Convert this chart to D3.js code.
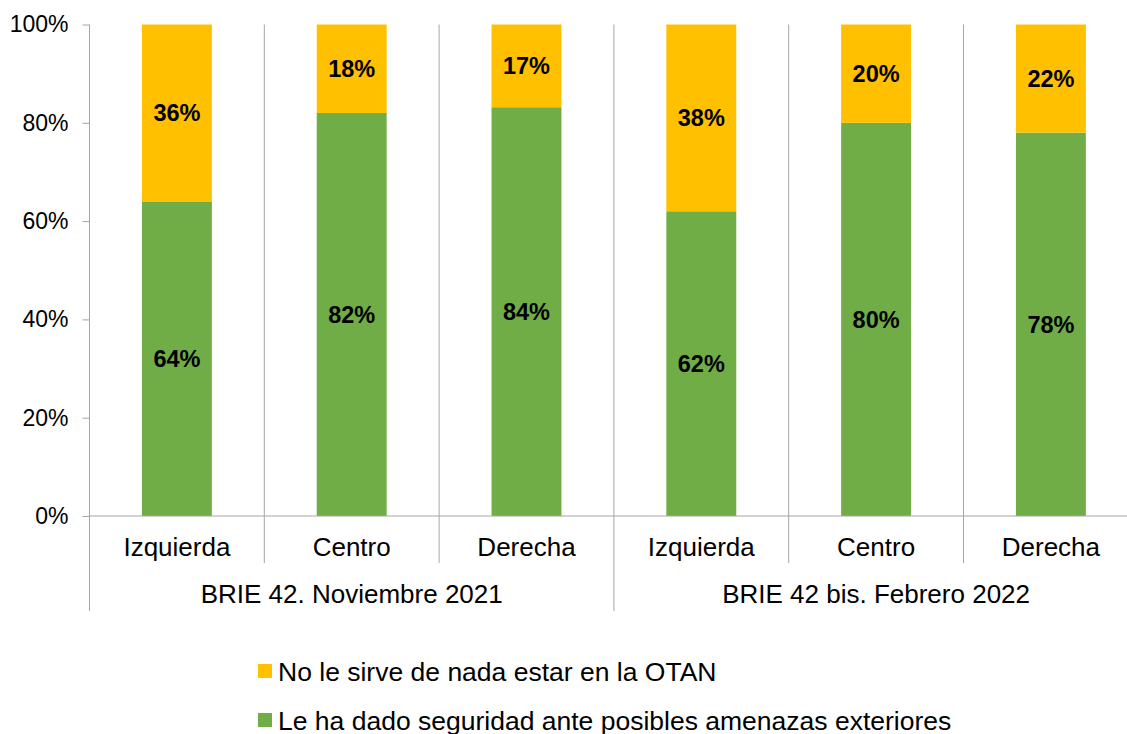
<!DOCTYPE html>
<html>
<head>
<meta charset="utf-8">
<script src="https://cdn.jsdelivr.net/npm/d3@7"></script>
<style>
  body { margin: 0; background: #fff; }
  svg { font-family: "Liberation Sans", Arial, sans-serif; }
  .axis path, .axis line { stroke: #a6a6a6; }
  .axis text { font-size: 23px; fill: #000; }
</style>
</head>
<body>
<svg class="chart" width="1127" height="734"></svg>
<script>
/* data */
var groups = ["BRIE 42. Noviembre 2021", "BRIE 42 bis. Febrero 2022"];
var categories = ["Izquierda", "Centro", "Derecha"];
var seguridad = [64, 82, 84, 62, 80, 78];   // green
var nada = [36, 18, 17, 38, 20, 22];        // yellow
var seriesNames = ["No le sirve de nada estar en la OTAN", "Le ha dado seguridad ante posibles amenazas exteriores"];
var colors = {seguridad: "#70ad47", nada: "#ffc000"};

var svg = d3.select(".chart"),
    plotLeft = 89.5, plotRight = 1138.3, plotTop = 24.5, plotBottom = 516;

/* one row per bar */
var rows = [];
groups.forEach(function(g, gi) {
  categories.forEach(function(c, ci) {
    var i = gi * categories.length + ci;
    rows.push({key: i, group: g, cat: c, seguridad: seguridad[i], nada: nada[i]});
  });
});

var x = d3.scaleBand().domain(rows.map(function(d) { return d.key; })).range([plotLeft, plotRight]);
var y = d3.scaleLinear().domain([0, 1]).range([plotBottom, plotTop]);
var barW = x.bandwidth() * 0.4;

/* stacked as shares of 100% */
var stack = d3.stack().keys(["seguridad", "nada"]).offset(d3.stackOffsetExpand);
var layers = stack(rows);

/* category separators inside the plot */
svg.append("g").selectAll("line")
  .data(rows.slice(1))
  .enter().append("line")
    .attr("x1", function(d) { return x(d.key); })
    .attr("x2", function(d) { return x(d.key); })
    .attr("y1", plotTop).attr("y2", plotBottom)
    .attr("stroke", "#a6a6a6").attr("stroke-width", 1);

/* bars */
var layer = svg.selectAll(".layer")
  .data(layers)
  .enter().append("g")
    .attr("class", "layer")
    .attr("fill", function(d) { return colors[d.key]; });

layer.selectAll("rect")
  .data(function(d) { return d; })
  .enter().append("rect")
    .attr("x", function(d) { return x(d.data.key) + (x.bandwidth() - barW) / 2; })
    .attr("y", function(d) { return y(d[1]); })
    .attr("width", barW)
    .attr("height", function(d) { return y(d[0]) - y(d[1]); });

/* value labels */
layers.forEach(function(l) {
  svg.append("g").selectAll("text")
    .data(l)
    .enter().append("text")
      .attr("x", function(d) { return x(d.data.key) + x.bandwidth() / 2; })
      .attr("y", function(d) { return (y(d[0]) + y(d[1])) / 2; })
      .attr("dy", "0.36em")
      .attr("text-anchor", "middle")
      .style("font-size", "23.5px")
      .style("font-weight", "bold")
      .text(function(d) { return d.data[l.key] + "%"; });
});

/* y axis */
var yAxis = svg.append("g")
    .attr("class", "axis")
    .attr("transform", "translate(" + plotLeft + ",0)")
    .call(d3.axisLeft(y).tickValues([0, .2, .4, .6, .8, 1]).tickFormat(d3.format(".0%")).tickSize(7).tickPadding(14));
yAxis.select(".domain").remove();

/* x axis line and the two-level category axis */
svg.append("line")
    .attr("x1", plotLeft).attr("x2", plotRight).attr("y1", plotBottom).attr("y2", plotBottom)
    .attr("stroke", "#a6a6a6");

svg.append("line")
    .attr("x1", plotLeft).attr("x2", plotLeft).attr("y1", plotTop).attr("y2", 611)
    .attr("stroke", "#a6a6a6");

svg.append("g").selectAll("line")
  .data(rows.slice(1).concat([{key: "end"}]))
  .enter().append("line")
    .attr("x1", function(d) { return d.key === "end" ? plotRight : x(d.key); })
    .attr("x2", function(d) { return d.key === "end" ? plotRight : x(d.key); })
    .attr("y1", plotBottom)
    .attr("y2", function(d) { return (d.key === "end" || d.key % categories.length === 0) ? 611 : 563; })
    .attr("stroke", "#a6a6a6");

svg.append("g").selectAll("text")
  .data(rows)
  .enter().append("text")
    .attr("x", function(d) { return x(d.key) + x.bandwidth() / 2; })
    .attr("y", 556)
    .attr("text-anchor", "middle")
    .style("font-size", "26px")
    .text(function(d) { return d.cat; });

svg.append("g").selectAll("text")
  .data(groups)
  .enter().append("text")
    .attr("x", function(d, i) {
      var a = x(i * categories.length), b = x(i * categories.length + categories.length - 1) + x.bandwidth();
      return (a + b) / 2;
    })
    .attr("y", 603)
    .attr("text-anchor", "middle")
    .style("font-size", "26px")
    .text(function(d) { return d; });

/* legend */
var legend = svg.append("g").selectAll("g")
  .data([{name: seriesNames[0], key: "nada"}, {name: seriesNames[1], key: "seguridad"}])
  .enter().append("g")
    .attr("transform", function(d, i) { return "translate(258," + (672 + i * 49) + ")"; });

legend.append("rect")
    .attr("x", 0).attr("y", -8).attr("width", 14).attr("height", 14)
    .attr("fill", function(d) { return colors[d.key]; });

legend.append("text")
    .attr("x", 20).attr("y", 0).attr("dy", "0.35em")
    .style("font-size", "26.5px")
    .text(function(d) { return d.name; });
</script>
</body>
</html>
